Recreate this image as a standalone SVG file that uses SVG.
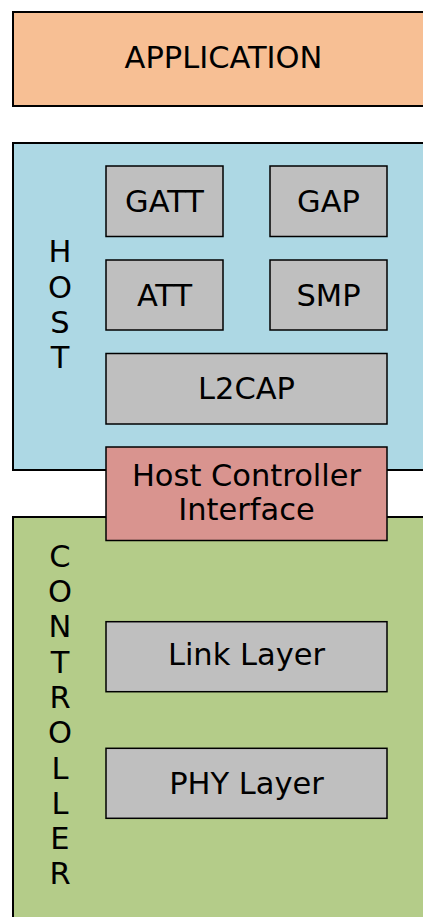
<svg xmlns="http://www.w3.org/2000/svg" width="423" height="917" viewBox="0 0 423 917">
  <style>
    text { font-family: "DejaVu Sans", Verdana, sans-serif; font-size: 30.5px; fill: #000; text-anchor: middle; }
    .outer { stroke: #000; stroke-width: 2; }
    .block { fill: #BFBFBF; stroke: #000; stroke-width: 1.5; }
  </style>
  <rect width="423" height="917" fill="#FFFFFF"/>

  <g id="application">
    <rect class="outer" x="13" y="12" width="421" height="94" fill="#F7BF94"/>
    <text x="223.5" y="68.3">APPLICATION</text>
  </g>

  <g id="host">
    <rect class="outer" x="13" y="143" width="421" height="327" fill="#ADD8E4"/>
    <text x="60" y="262.3"><tspan x="60">H</tspan><tspan x="60" dy="35.3">O</tspan><tspan x="60" dy="35.3">S</tspan><tspan x="60" dy="35.3">T</tspan></text>
  </g>

  <g id="controller">
    <rect class="outer" x="13" y="517" width="421" height="420" fill="#B4CC89"/>
    <text x="60" y="566.7"><tspan x="60">C</tspan><tspan x="60" dy="35.3">O</tspan><tspan x="60" dy="35.3">N</tspan><tspan x="60" dy="35.3">T</tspan><tspan x="60" dy="35.3">R</tspan><tspan x="60" dy="35.3">O</tspan><tspan x="60" dy="35.3">L</tspan><tspan x="60" dy="35.3">L</tspan><tspan x="60" dy="35.3">E</tspan><tspan x="60" dy="35.3">R</tspan></text>
  </g>

  <g id="gatt">
    <rect class="block" x="106" y="166" width="117" height="70.5"/>
    <text x="164.5" y="211.7">GATT</text>
  </g>
  <g id="gap">
    <rect class="block" x="270" y="166" width="117" height="70.5"/>
    <text x="328.5" y="211.7">GAP</text>
  </g>
  <g id="att">
    <rect class="block" x="106" y="260" width="117" height="70"/>
    <text x="164.5" y="305.5">ATT</text>
  </g>
  <g id="smp">
    <rect class="block" x="270" y="260" width="117" height="70"/>
    <text x="328.5" y="305.5">SMP</text>
  </g>
  <g id="l2cap">
    <rect class="block" x="106" y="353.5" width="281" height="70.5"/>
    <text x="246.5" y="399.2">L2CAP</text>
  </g>
  <g id="hci">
    <rect x="106" y="447" width="281" height="93.5" fill="#D9948F" stroke="#000" stroke-width="1.5"/>
    <text x="246.5" y="486">Host Controller</text>
    <text x="246.5" y="520">Interface</text>
  </g>
  <g id="link-layer">
    <rect class="block" x="106" y="621.7" width="281" height="70"/>
    <text x="246.5" y="665">Link Layer</text>
  </g>
  <g id="phy-layer">
    <rect class="block" x="106" y="748.3" width="281" height="70"/>
    <text x="246.5" y="793.7">PHY Layer</text>
  </g>

  <g id="connectors"></g>
</svg>
